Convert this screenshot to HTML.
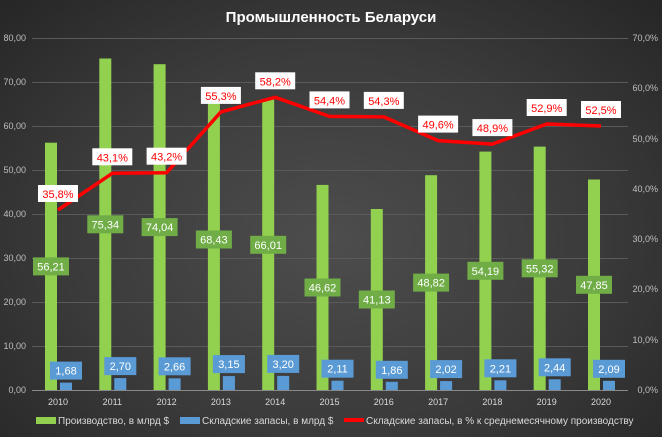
<!DOCTYPE html>
<html><head><meta charset="utf-8"><style>
html,body{margin:0;padding:0;width:662px;height:437px;overflow:hidden}
body{background:radial-gradient(ellipse at 50% 55%,#4d4d4d 0%,#3b3b3b 55%,#262626 100%)}
svg{display:block;font-family:"Liberation Sans",sans-serif}
</style></head><body>
<svg width="662" height="437" xmlns="http://www.w3.org/2000/svg">
<text x="331" y="22" fill="#fff" font-size="15" font-weight="bold" text-anchor="middle">Промышленность Беларуси</text>
<g stroke="#5a5a5a" stroke-width="1">
<line x1="32" x2="628" y1="38.5" y2="38.5"/><line x1="32" x2="628" y1="82.5" y2="82.5"/>
<line x1="32" x2="628" y1="126.5" y2="126.5"/><line x1="32" x2="628" y1="170.5" y2="170.5"/>
<line x1="32" x2="628" y1="214.5" y2="214.5"/><line x1="32" x2="628" y1="258.5" y2="258.5"/>
<line x1="32" x2="628" y1="302.5" y2="302.5"/><line x1="32" x2="628" y1="346.5" y2="346.5"/>
</g>
<line x1="32" x2="628" y1="390.5" y2="390.5" stroke="#8a8a8a"/>
<g fill="#bfbfbf" font-size="9" text-anchor="end">
<text x="26" y="41">80,00</text><text x="26" y="85">70,00</text><text x="26" y="129">60,00</text>
<text x="26" y="173">50,00</text><text x="26" y="217">40,00</text><text x="26" y="261">30,00</text>
<text x="26" y="305">20,00</text><text x="26" y="349">10,00</text><text x="26" y="393">0,00</text>
<text x="658" y="41">70,0%</text><text x="658" y="91">60,0%</text><text x="658" y="142">50,0%</text>
<text x="658" y="192">40,0%</text><text x="658" y="242">30,0%</text><text x="658" y="292">20,0%</text>
<text x="658" y="343">10,0%</text><text x="658" y="393">0,0%</text>
</g>
<g fill="#92d050">
<rect x="45" y="142.7" width="12" height="247.3"/>
<rect x="99.3" y="58.5" width="12" height="331.5"/>
<rect x="153.6" y="64.2" width="12" height="325.8"/>
<rect x="207.9" y="88.9" width="12" height="301.1"/>
<rect x="262.2" y="99.6" width="12" height="290.4"/>
<rect x="316.5" y="184.9" width="12" height="205.1"/>
<rect x="370.8" y="209" width="12" height="181"/>
<rect x="425.1" y="175.2" width="12" height="214.8"/>
<rect x="479.4" y="151.6" width="12" height="238.4"/>
<rect x="533.7" y="146.6" width="12" height="243.4"/>
<rect x="588" y="179.5" width="12" height="210.5"/>
</g>
<g fill="#5b9bd5">
<rect x="60" y="382.6" width="12" height="7.4"/>
<rect x="114.3" y="378.1" width="12" height="11.9"/>
<rect x="168.6" y="378.3" width="12" height="11.7"/>
<rect x="222.9" y="376.1" width="12" height="13.9"/>
<rect x="277.2" y="375.9" width="12" height="14.1"/>
<rect x="331.5" y="380.7" width="12" height="9.3"/>
<rect x="385.8" y="381.8" width="12" height="8.2"/>
<rect x="440.1" y="381.1" width="12" height="8.9"/>
<rect x="494.4" y="380.3" width="12" height="9.7"/>
<rect x="548.7" y="379.3" width="12" height="10.7"/>
<rect x="603" y="380.8" width="12" height="9.2"/>
</g>
<g fill="#70ad47">
<rect x="33" y="257.4" width="36" height="18"/>
<rect x="87.3" y="215.3" width="36" height="18"/>
<rect x="141.6" y="218.1" width="36" height="18"/>
<rect x="195.9" y="230.5" width="36" height="18"/>
<rect x="250.2" y="235.8" width="36" height="18"/>
<rect x="304.5" y="278.5" width="36" height="18"/>
<rect x="358.8" y="290.5" width="36" height="18"/>
<rect x="413.1" y="273.6" width="36" height="18"/>
<rect x="467.4" y="261.8" width="36" height="18"/>
<rect x="521.7" y="259.3" width="36" height="18"/>
<rect x="576" y="275.8" width="36" height="18"/>
</g>
<g fill="#fff" font-size="11" text-anchor="middle">
<text x="51" y="270.4">56,21</text>
<text x="105.3" y="228.3">75,34</text>
<text x="159.6" y="231.1">74,04</text>
<text x="213.9" y="243.5">68,43</text>
<text x="268.2" y="248.8">66,01</text>
<text x="322.5" y="291.5">46,62</text>
<text x="376.8" y="303.5">41,13</text>
<text x="431.1" y="286.6">48,82</text>
<text x="485.4" y="274.8">54,19</text>
<text x="539.7" y="272.3">55,32</text>
<text x="594" y="288.8">47,85</text>
</g>
<g fill="#5b9bd5">
<rect x="50" y="361.6" width="32" height="18"/>
<rect x="104.3" y="357.1" width="32" height="18"/>
<rect x="158.6" y="357.3" width="32" height="18"/>
<rect x="212.9" y="355.1" width="32" height="18"/>
<rect x="267.2" y="354.9" width="32" height="18"/>
<rect x="321.5" y="359.7" width="32" height="18"/>
<rect x="375.8" y="360.8" width="32" height="18"/>
<rect x="430.1" y="360.1" width="32" height="18"/>
<rect x="484.4" y="359.3" width="32" height="18"/>
<rect x="538.7" y="358.3" width="32" height="18"/>
<rect x="593" y="359.8" width="32" height="18"/>
</g>
<g fill="#fff" font-size="11" text-anchor="middle">
<text x="66" y="374.6">1,68</text>
<text x="120.3" y="370.1">2,70</text>
<text x="174.6" y="370.3">2,66</text>
<text x="228.9" y="368.1">3,15</text>
<text x="283.2" y="367.9">3,20</text>
<text x="337.5" y="372.7">2,11</text>
<text x="391.8" y="373.8">1,86</text>
<text x="446.1" y="373.1">2,02</text>
<text x="500.4" y="372.3">2,21</text>
<text x="554.7" y="371.3">2,44</text>
<text x="609" y="372.8">2,09</text>
</g>
<g fill="#d9d9d9" font-size="9" text-anchor="middle">
<text x="58" y="405">2010</text><text x="112.3" y="405">2011</text><text x="166.6" y="405">2012</text>
<text x="220.9" y="405">2013</text><text x="275.2" y="405">2014</text><text x="329.5" y="405">2015</text>
<text x="383.8" y="405">2016</text><text x="438.1" y="405">2017</text><text x="492.4" y="405">2018</text>
<text x="546.7" y="405">2019</text><text x="601" y="405">2020</text>
</g>
<polyline points="58,210 112.3,173.3 166.6,172.7 220.9,111.9 275.2,97.3 329.5,116.4 383.8,116.9 438.1,140.6 492.4,144.1 546.7,124 601,126" fill="none" stroke="#ff0000" stroke-width="3.5" stroke-linejoin="round"/>
<g fill="#fff">
<rect x="38" y="185" width="40" height="17"/>
<rect x="92.3" y="148.3" width="40" height="17"/>
<rect x="146.6" y="147.7" width="40" height="17"/>
<rect x="200.9" y="86.9" width="40" height="17"/>
<rect x="255.2" y="72.3" width="40" height="17"/>
<rect x="309.5" y="91.4" width="40" height="17"/>
<rect x="363.8" y="91.9" width="40" height="17"/>
<rect x="418.1" y="115.6" width="40" height="17"/>
<rect x="472.4" y="119.1" width="40" height="17"/>
<rect x="526.7" y="99" width="40" height="17"/>
<rect x="581" y="101" width="40" height="17"/>
</g>
<g fill="#ff0000" font-size="11" text-anchor="middle">
<text x="58" y="198">35,8%</text>
<text x="112.3" y="161.3">43,1%</text>
<text x="166.6" y="160.7">43,2%</text>
<text x="220.9" y="99.9">55,3%</text>
<text x="275.2" y="85.3">58,2%</text>
<text x="329.5" y="104.4">54,4%</text>
<text x="383.8" y="104.9">54,3%</text>
<text x="438.1" y="128.6">49,6%</text>
<text x="492.4" y="132.1">48,9%</text>
<text x="546.7" y="112">52,9%</text>
<text x="601" y="114">52,5%</text>
</g>
<g font-size="10" fill="#d9d9d9">
<rect x="36" y="417" width="20" height="7" fill="#92d050"/><text x="58" y="424">Производство, в млрд $</text>
<rect x="180" y="417" width="20" height="7" fill="#5b9bd5"/><text x="202" y="424">Складские запасы, в млрд $</text>
<rect x="344" y="418" width="20" height="4" fill="#ff0000"/><text x="366" y="424">Складские запасы, в % к среднемесячному производству</text>
</g>
</svg>
</body></html>
